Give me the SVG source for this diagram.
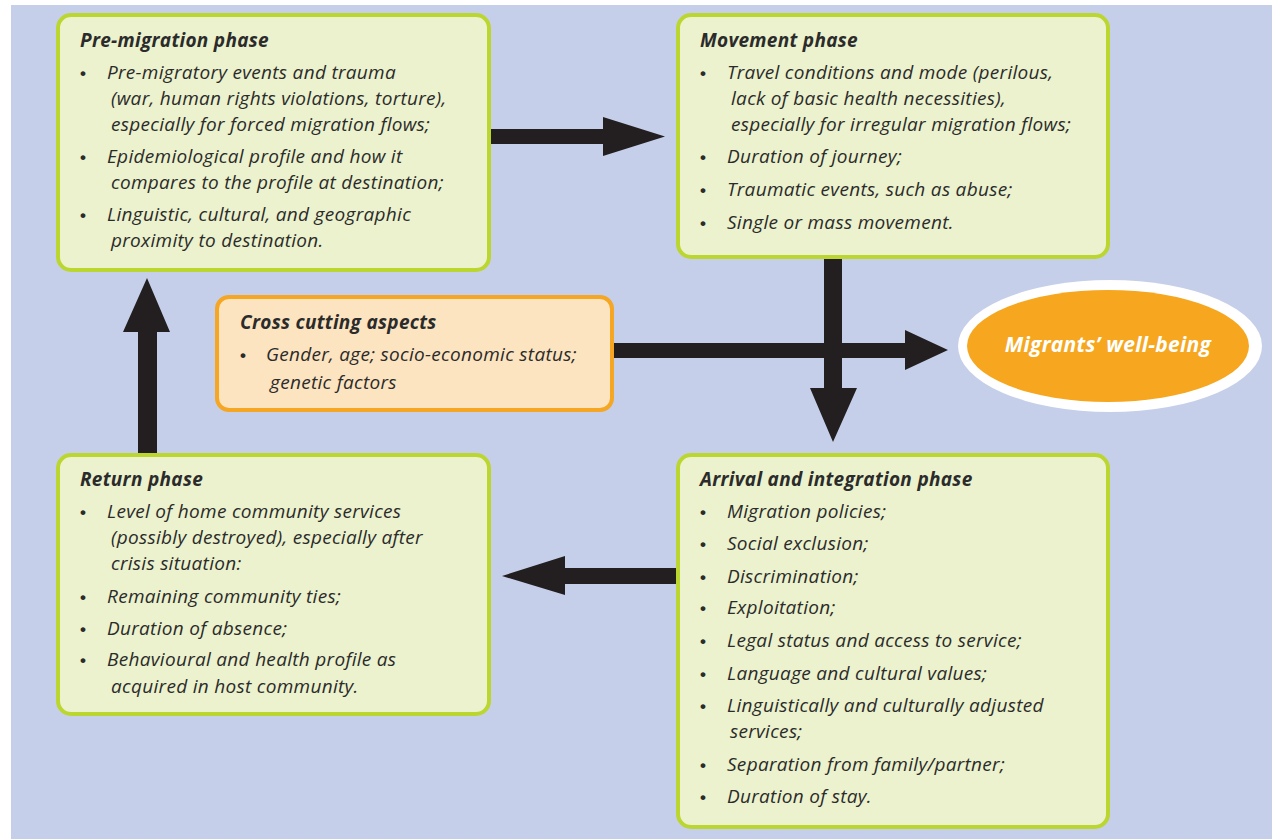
<svg xmlns="http://www.w3.org/2000/svg" width="1272" height="839" viewBox="0 0 1272 839">
<defs>
<style>
.box{fill:#ebf2cd;stroke:#bcd630;stroke-width:4}
.cross{fill:#fde4c0;stroke:#f5a623;stroke-width:4}
text{font-family:"Open Sans","Liberation Sans",Arial,sans-serif;font-style:italic;font-size:19px;fill:#2b2b2b;letter-spacing:0.3px}
.t{font-weight:bold}
.b{font-family:"Liberation Sans",Arial,sans-serif;font-style:normal;font-size:17px;font-weight:bold;letter-spacing:0}
.arrow{fill:#231f20}
.wb{fill:#ffffff;font-weight:bold;font-size:21px}
</style>
</defs>
<rect x="0" y="0" width="1272" height="839" fill="#ffffff"/>
<rect x="11" y="5" width="1261" height="834" fill="#c5cfe9"/>

<g id="connectors">
<polygon class="arrow" points="490,129 603,129 603,117 665,136.5 603,156 603,144 490,144"/>
<polygon class="arrow" points="824,258 842,258 842,388 857,388 833,442 810,388 824,388"/>
<polygon class="arrow" points="612,343 905,343 905,330 948,350 905,370 905,358 612,358"/>
<polygon class="arrow" points="138,453 138,332 123,332 147,278 170,332 157,332 157,453"/>
<polygon class="arrow" points="677,568 565,568 565,556 502,576 565,595 565,584 677,584"/>
</g>

<g id="pre-migration">
<rect class="box" x="58" y="15" width="431" height="255" rx="13"/>
<text class="t" x="80" y="47">Pre-migration phase</text>
<text class="b" x="80" y="79">•</text>
<text x="107" y="79">Pre-migratory events and trauma</text>
<text x="111" y="105">(war, human rights violations, torture),</text>
<text x="111" y="131">especially for forced migration flows;</text>
<text class="b" x="80" y="163">•</text>
<text x="107" y="163">Epidemiological profile and how it</text>
<text x="111" y="189">compares to the profile at destination;</text>
<text class="b" x="80" y="221">•</text>
<text x="107" y="221">Linguistic, cultural, and geographic</text>
<text x="111" y="247">proximity to destination.</text>
</g>

<g id="movement">
<rect class="box" x="678" y="15" width="430" height="242" rx="13"/>
<text class="t" x="700" y="47">Movement phase</text>
<text class="b" x="700" y="79">•</text>
<text x="727" y="79">Travel conditions and mode (perilous,</text>
<text x="731" y="105">lack of basic health necessities),</text>
<text x="731" y="131">especially for irregular migration flows;</text>
<text class="b" x="700" y="163">•</text>
<text x="727" y="163">Duration of journey;</text>
<text class="b" x="700" y="196">•</text>
<text x="727" y="196">Traumatic events, such as abuse;</text>
<text class="b" x="700" y="229">•</text>
<text x="727" y="229">Single or mass movement.</text>
</g>

<g id="cross-cutting">
<rect class="cross" x="217" y="297" width="395" height="113" rx="12"/>
<text class="t" x="240" y="329">Cross cutting aspects</text>
<text class="b" x="240" y="361">•</text>
<text x="266" y="361">Gender, age; socio-economic status;</text>
<text x="270" y="389">genetic factors</text>
</g>

<g id="well-being">
<ellipse cx="1110" cy="346" rx="152" ry="66" fill="#ffffff"/>
<ellipse cx="1108" cy="346" rx="141" ry="56" fill="#f6a71f"/>
<text class="wb" x="1108" y="352" text-anchor="middle">Migrants’ well-being</text>
</g>

<g id="return">
<rect class="box" x="58" y="455" width="431" height="259" rx="13"/>
<text class="t" x="80" y="486">Return phase</text>
<text class="b" x="80" y="518">•</text>
<text x="107" y="518">Level of home community services</text>
<text x="111" y="544">(possibly destroyed), especially after</text>
<text x="111" y="570">crisis situation:</text>
<text class="b" x="80" y="603">•</text>
<text x="107" y="603">Remaining community ties;</text>
<text class="b" x="80" y="635">•</text>
<text x="107" y="635">Duration of absence;</text>
<text class="b" x="80" y="666">•</text>
<text x="107" y="666">Behavioural and health profile as</text>
<text x="111" y="693">acquired in host community.</text>
</g>

<g id="arrival">
<rect class="box" x="678" y="455" width="430" height="372" rx="13"/>
<text class="t" x="700" y="486">Arrival and integration phase</text>
<text class="b" x="700" y="518">•</text>
<text x="727" y="518">Migration policies;</text>
<text class="b" x="700" y="550">•</text>
<text x="727" y="550">Social exclusion;</text>
<text class="b" x="700" y="583">•</text>
<text x="727" y="583">Discrimination;</text>
<text class="b" x="700" y="614">•</text>
<text x="727" y="614">Exploitation;</text>
<text class="b" x="700" y="647">•</text>
<text x="727" y="647">Legal status and access to service;</text>
<text class="b" x="700" y="680">•</text>
<text x="727" y="680">Language and cultural values;</text>
<text class="b" x="700" y="712">•</text>
<text x="727" y="712">Linguistically and culturally adjusted</text>
<text x="730" y="738">services;</text>
<text class="b" x="700" y="771">•</text>
<text x="727" y="771">Separation from family/partner;</text>
<text class="b" x="700" y="803">•</text>
<text x="727" y="803">Duration of stay.</text>
</g>
</svg>
